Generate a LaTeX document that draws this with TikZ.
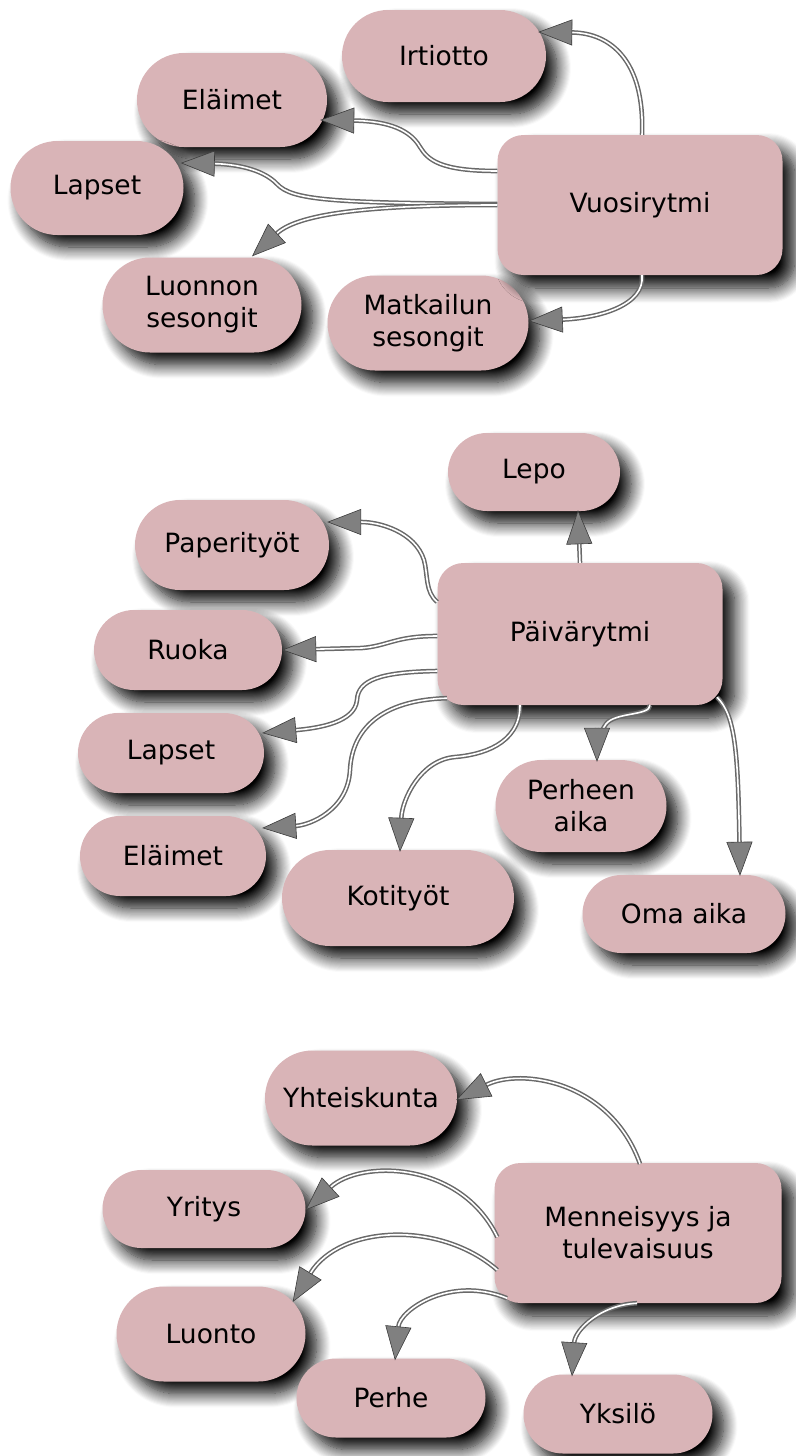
\documentclass[tikz,border=0pt]{standalone}
\usepackage{fontspec}
\setmainfont{DejaVu Sans}
\usetikzlibrary{shapes.misc,shadows.blur,arrows.meta,calc}
\definecolor{nodefill}{RGB}{217,180,183}
\definecolor{linegray}{RGB}{105,105,105}
\definecolor{tipgray}{RGB}{128,128,128}
\definecolor{tipedge}{RGB}{60,60,60}
\tikzset{
  pill/.style={rounded rectangle, fill=nodefill, draw=none, align=center,
    font=\fontsize{26.5}{32}\selectfont, inner sep=0pt,
    blur shadow={shadow xshift=11pt, shadow yshift=-12pt, shadow blur radius=14pt, shadow opacity=100, shadow blur steps=14}},
  hub/.style={rectangle, rounded corners=26pt, fill=nodefill, draw=none, align=center,
    font=\fontsize{26.5}{32}\selectfont, inner sep=0pt,
    minimum width=285pt, minimum height=140pt,
    blur shadow={shadow xshift=12pt, shadow yshift=-13pt, shadow blur radius=15pt, shadow opacity=100, shadow blur steps=14}},
  conn/.style={draw=linegray, line width=1.5pt, double=white, double distance=1.6pt,
    -{Triangle[length=34pt,width=26pt,fill=tipgray,color=tipedge,line width=0.6pt]}},
}
\begin{document}
\begin{tikzpicture}[x=1pt,y=-1pt]
\useasboundingbox (0,0) rectangle (795,1456);
% ---------- cluster 1 ----------
\node[pill, minimum width=204pt, minimum height=92pt] (irt) at (444,56) {Irtiotto};
\node[pill, minimum width=190pt, minimum height=94pt] (elaimetA) at (232,100) {Eläimet};
\node[pill, minimum width=173pt, minimum height=94pt] (lapsetA) at (97,188) {Lapset};
\node[pill, minimum width=199pt, minimum height=95pt] (luonnon) at (202,305) {Luonnon\\sesongit};
\node[pill, minimum width=201pt, minimum height=95pt] (matkailun) at (428,323) {Matkailun\\sesongit};
\node[hub] (vuosi) at (640,205) {Vuosirytmi};

\draw[conn] ($(vuosi.north)+(2,0)$) .. controls (645,60) and (610,33) .. ($(irt.east)+(-8,-24)$);
\draw[conn] ($(vuosi.west)+(0,-34)$) .. controls (440,171) and (428,160) .. (420,147)
   .. controls (408,126) and (380,121) .. ($(elaimetA.east)+(-7,20)$);
\draw[conn] ($(vuosi.west)+(0,-1)$) .. controls (330,203) and (292,200) .. (277,184)
   .. controls (262,168) and (232,164) .. ($(lapsetA.east)+(-3,-25)$);
\draw[conn] ($(vuosi.west)+(0,0)$) .. controls (380,205) and (300,212) .. ($(luonnon.north)+(50,-1)$);
\draw[conn] ($(vuosi.south)+(2,0)$) .. controls (645,305) and (600,318) .. ($(matkailun.east)+(0,-2)$);

% ---------- cluster 2 ----------
\node[pill, minimum width=172pt, minimum height=78pt] (lepo) at (534,472) {Lepo};
\node[pill, minimum width=194pt, minimum height=90pt] (paperi) at (232,545) {Paperityöt};
\node[pill, minimum width=188pt, minimum height=80pt] (ruoka) at (188,650) {Ruoka};
\node[pill, minimum width=186pt, minimum height=80pt] (lapsetB) at (171,753) {Lapset};
\node[pill, minimum width=186pt, minimum height=80pt] (elaimetB) at (173,856) {Eläimet};
\node[pill, minimum width=232pt, minimum height=96pt] (koti) at (398,898) {Kotityöt};
\node[pill, minimum width=171pt, minimum height=92pt] (perheen) at (581,806) {Perheen\\aika};
\node[pill, minimum width=203pt, minimum height=78pt] (oma) at (684,914) {Oma aika};
\node[hub, minimum height=142pt] (paiva) at (580,634) {Päivärytmi};

\draw[conn] (paiva.north) -- ($(lepo.south)+(44,-1)$);
\draw[conn] ($(paiva.west)+(0,-32)$) .. controls (425,592) and (428,575) .. (424,560)
   .. controls (415,532) and (380,522) .. ($(paperi.east)+(-2,-23)$);
\draw[conn] ($(paiva.west)+(0,2)$) .. controls (395,636) and (388,646) .. (362,648) -- (ruoka.east);
\draw[conn] ($(paiva.west)+(0,37)$) .. controls (380,672) and (358,680) .. (357,700)
   .. controls (355,722) and (320,728) .. ($(lapsetB.east)+(-2,-20)$);
\draw[conn] ($(paiva.south)+(-133,-7)$) .. controls (380,700) and (352,730) .. (350,770)
   .. controls (348,810) and (310,825) .. ($(elaimetB.east)+(-4,-28)$);
\draw[conn] ($(paiva.south)+(-60,0)$) .. controls (520,745) and (480,755) .. (455,757)
   .. controls (420,760) and (402,800) .. ($(koti.north)+(2,2)$);
\draw[conn] ($(paiva.south)+(70,0)$) .. controls (650,716) and (615,712) .. (606,724)
   .. controls (599,734) and (597,745) .. ($(perheen.north)+(16,2)$);
\draw[conn] ($(paiva.south)+(137,-8)$) .. controls (735,715) and (738,750) .. ($(oma.north)+(56,1)$);

% ---------- cluster 3 ----------
\node[pill, minimum width=192pt, minimum height=95pt] (yhteis) at (361,1098) {Yhteiskunta};
\node[pill, minimum width=203pt, minimum height=78pt] (yritys) at (204,1209) {Yritys};
\node[pill, minimum width=189pt, minimum height=95pt] (luonto) at (211,1334) {Luonto};
\node[pill, minimum width=189pt, minimum height=79pt] (perhe) at (391,1398) {Perhe};
\node[pill, minimum width=189pt, minimum height=79pt] (yksilo) at (618,1414) {Yksilö};
\node[hub, minimum width=287pt] (menn) at (638,1233) {Menneisyys ja\\tulevaisuus};

\draw[conn] ($(menn.north)+(2,1)$) .. controls (610,1080) and (520,1068) .. ($(yhteis.east)+(-1,2)$);
\draw[conn] ($(menn.west)+(3,4)$) .. controls (460,1160) and (360,1160) .. ($(yritys.east)+(0,1)$);
\draw[conn] ($(menn.west)+(3,37)$) .. controls (440,1220) and (340,1225) .. ($(luonto.east)+(-13,-32)$);
\draw[conn] ($(menn.south)+(-131,-5)$) .. controls (450,1275) and (400,1310) .. ($(perhe.north)+(4,2)$);
\draw[conn] ($(menn.south)+(-1,0)$) .. controls (600,1305) and (575,1330) .. ($(yksilo.north)+(-46,2)$);
\end{tikzpicture}
\end{document}
